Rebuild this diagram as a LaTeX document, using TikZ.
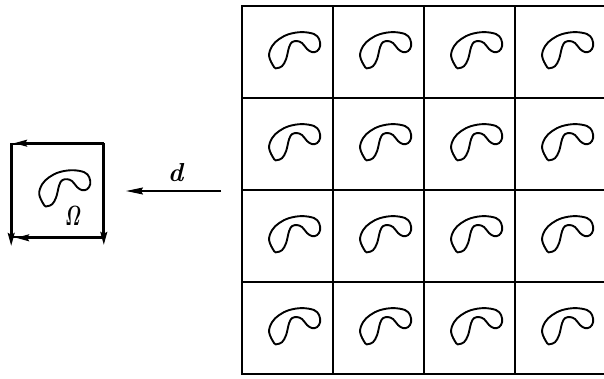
\RequirePackage{fix-cm}
\documentclass[tikz,border=0pt]{standalone}
\usepackage{amsmath}
\usetikzlibrary{arrows.meta}
\tikzset{
  beanline/.style={line width=1.9pt, line join=round},
  bean/.pic={\draw[beanline] plot[smooth cycle, tension=0.6] coordinates {
     (33,62) (28,51) (31,41) (38,34) (48,29) (61,27) (73,29) (78,34) (79,41) (76,46) (71,47)
     (66,44) (61,38) (56,36) (51,37) (48,42) (45,54) (41,61) (36,63)};},
  cellbox/.style={draw, line width=1.8pt, rectangle, minimum width=91pt, minimum height=92pt, inner sep=0pt},
  framebox/.style={draw, line width=1.6pt, rectangle, minimum width=91pt, minimum height=93pt, inner sep=0pt},
  edgearrow/.style={line width=1.6pt, -{Stealth[length=13pt,width=7pt,inset=2pt]}},
  darrow/.style={line width=1.3pt, -{Stealth[length=17pt,width=7pt,inset=2pt]}}
}
\begin{document}
\begin{tikzpicture}[x=1pt,y=-1pt]
\useasboundingbox (0,0) rectangle (604,379);
% grid of cells
\foreach \i in {0,1,2,3}{
  \foreach \j in {0,1,2,3}{
    \node[cellbox] (c\i\j) at ({242+45.5+91*\j},{6+46+92*\i}) {};
    \pic at (c\i\j.north west) {bean};
  }
}
% left frame
\node[framebox] (box) at (57.5,190.5) {};
\pic at (box.north west) {bean};
\node[inner sep=0pt] (om) at (73,216) {\resizebox{16pt}{19pt}{$\boldsymbol{\varOmega}$}};
\coordinate (tl) at (box.north west);
\coordinate (tr) at (box.north east);
\coordinate (bl) at (box.south west);
\coordinate (br) at (box.south east);
\draw[edgearrow] (tr) -- ([xshift=3pt]tl);
\draw[edgearrow] (tl) -- ([yshift=-8pt]bl);
\draw[edgearrow] (br) -- ([xshift=5pt]bl);
\draw[edgearrow] (tr) -- ([yshift=-7pt]br);
% arrow d
\coordinate (dstart) at (221,191);
\coordinate (dend) at (126,191);
\draw[darrow] (dstart) -- (dend);
\node[font=\fontsize{26}{28}\selectfont\bfseries\itshape, inner sep=0pt] (dlab) at (175.5,173) {d};
\end{tikzpicture}
\end{document}
